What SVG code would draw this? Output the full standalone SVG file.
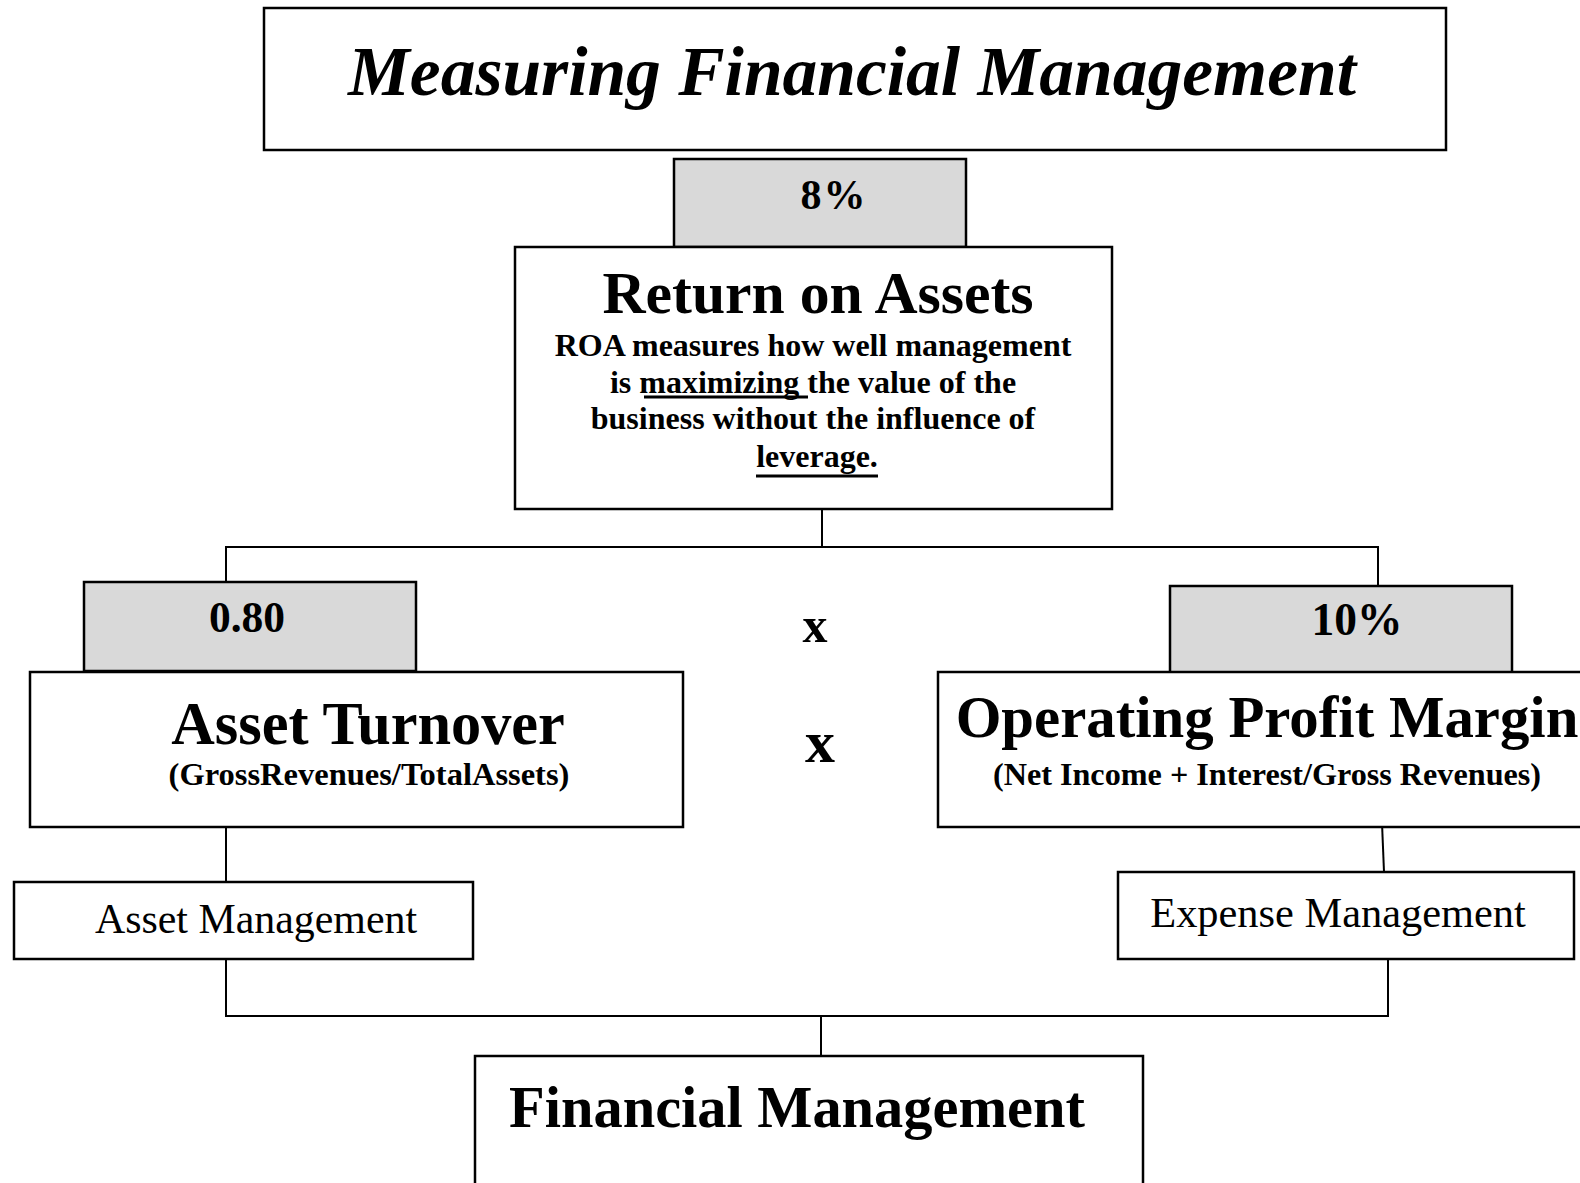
<svg xmlns="http://www.w3.org/2000/svg" width="1580" height="1183" viewBox="0 0 1580 1183">
  <style>
    text { font-family: "Liberation Serif", "Times New Roman", serif; fill: #000; }
    .box { fill: #fff; stroke: #000; stroke-width: 2.5; }
    .val { fill: #d9d9d9; stroke: #000; stroke-width: 2.5; }
    .wire { fill: none; stroke: #000; stroke-width: 2; }
    .ul { stroke: #000; stroke-width: 3; }
    .b { font-weight: bold; }
  </style>
  <rect width="1580" height="1183" fill="#fff"/>

  <!-- connectors -->
  <g id="connectors">
    <polyline class="wire" points="822,509 822,547"/>
    <polyline class="wire" points="226,582 226,547 1378,547 1378,586"/>
    <line class="wire" x1="226" y1="823" x2="226" y2="882"/>
    <line class="wire" x1="1382" y1="823" x2="1384" y2="872"/>
    <polyline class="wire" points="226,959 226,1016 1388,1016 1388,959"/>
    <line class="wire" x1="821" y1="1016" x2="821" y2="1056"/>
  </g>

  <g id="title">
    <rect class="box" x="264" y="8" width="1182" height="142"/>
    <text x="852" y="95" text-anchor="middle" style="font-size:69.5px" font-weight="bold" font-style="italic">Measuring Financial Management</text>
  </g>

  <g id="roa-value">
    <rect class="val" x="674" y="159" width="292" height="88"/>
    <text class="b" x="834" y="209" text-anchor="middle" style="font-size:42px" letter-spacing="2">8%</text>
  </g>

  <g id="roa">
    <rect class="box" x="515" y="247" width="597" height="262"/>
    <text class="b" x="818" y="313" text-anchor="middle" style="font-size:59.7px">Return on Assets</text>
    <text class="b" style="font-size:32px" text-anchor="middle">
      <tspan x="817" y="356">ROA measures how well management</tspan>
      <tspan x="817" y="393">is maximizing the value of the</tspan>
      <tspan x="817" y="429">business without the influence of</tspan>
      <tspan x="817" y="467">leverage.</tspan>
    </text>
    <line class="ul" x1="644" y1="397" x2="808" y2="397"/>
    <line class="ul" x1="756" y1="476" x2="878" y2="476"/>
  </g>

  <g id="turnover-value">
    <rect class="val" x="84" y="582" width="332" height="89"/>
    <text class="b" x="247" y="632" text-anchor="middle" style="font-size:43.5px">0.80</text>
  </g>

  <g id="asset-turnover">
    <rect class="box" x="30" y="672" width="653" height="155"/>
    <text class="b" x="368" y="744" text-anchor="middle" style="font-size:60.3px">Asset Turnover</text>
    <text class="b" x="369" y="785" text-anchor="middle" style="font-size:32.5px">(GrossRevenues/TotalAssets)</text>
  </g>

  <g id="times">
    <text class="b" x="815" y="642" text-anchor="middle" style="font-size:50px">x</text>
    <text class="b" x="820" y="762" text-anchor="middle" style="font-size:60px">x</text>
  </g>

  <g id="margin-value">
    <rect class="val" x="1170" y="586" width="342" height="87"/>
    <text class="b" x="1357" y="635" text-anchor="middle" style="font-size:45.5px">10%</text>
  </g>

  <g id="operating-profit-margin">
    <rect class="box" x="938" y="672" width="650" height="155"/>
    <text class="b" x="1267" y="737" text-anchor="middle" style="font-size:58.8px">Operating Profit Margin</text>
    <text class="b" x="1267" y="785" text-anchor="middle" style="font-size:32.2px">(Net Income + Interest/Gross Revenues)</text>
  </g>

  <g id="asset-management">
    <rect class="box" x="14" y="882" width="459" height="77"/>
    <text x="256" y="933" text-anchor="middle" style="font-size:41.9px">Asset Management</text>
  </g>

  <g id="expense-management">
    <rect class="box" x="1118" y="872" width="456" height="87"/>
    <text x="1338" y="927" text-anchor="middle" style="font-size:42.4px">Expense Management</text>
  </g>

  <g id="financial-management">
    <rect class="box" x="475" y="1056" width="668" height="140"/>
    <text class="b" x="797" y="1127" text-anchor="middle" style="font-size:58.4px">Financial Management</text>
  </g>
</svg>
